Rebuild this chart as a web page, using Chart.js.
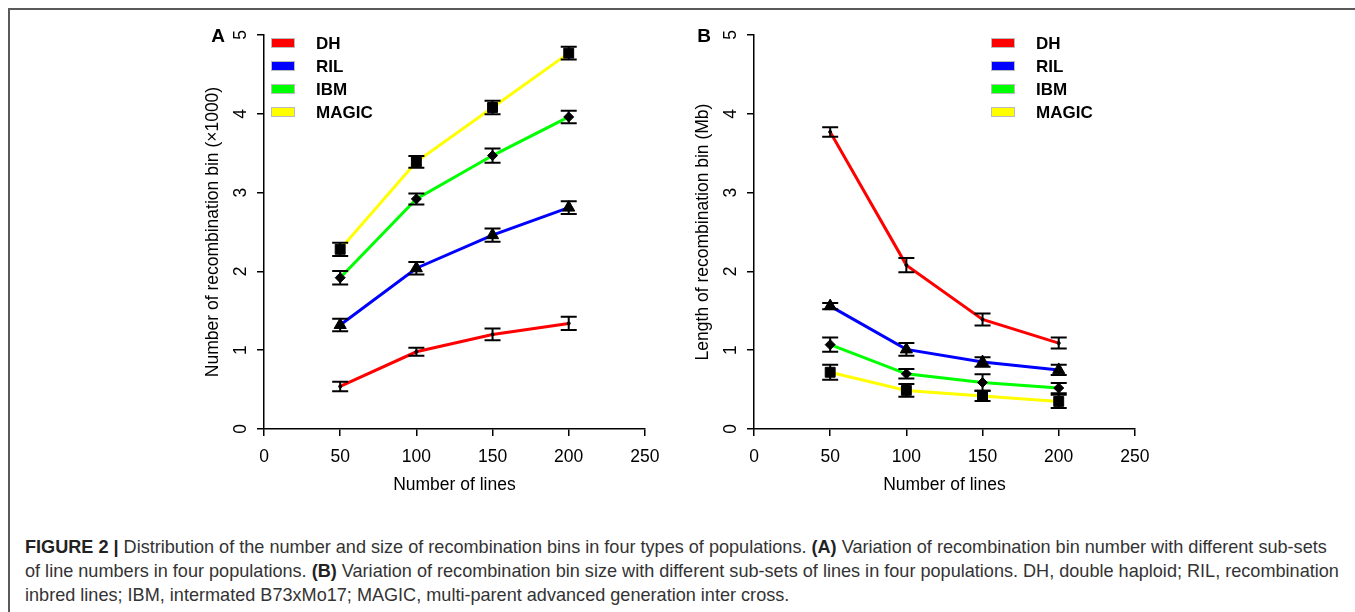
<!DOCTYPE html>
<html>
<head>
<meta charset="utf-8">
<title>Recombination bins in four populations</title>
<style>
  body { margin:0; background:#fff; width:1355px; height:612px; overflow:hidden; position:relative;
         font-family:'Liberation Sans', Arial, sans-serif; }
  .frame { position:absolute; left:8px; top:8px; width:1400px; height:700px;
           border-top:2px solid #5a5a5a; border-left:2px solid #5a5a5a; }
  canvas { position:absolute; }
  #chartA { left:190px; top:20px; }
  #chartB { left:680px; top:20px; }
  .caption { position:absolute; left:25px; top:535px; font-size:18.1px; line-height:24px;
             color:#333; white-space:nowrap; }
  .caption b { color:#222; }
</style>
</head>
<body>
<div class="frame"></div>
<canvas id="chartA" width="480" height="490"></canvas>
<canvas id="chartB" width="480" height="490"></canvas>
<div class="caption">
  <b>FIGURE 2 |</b> Distribution of the number and size of recombination bins in four types of populations. <b>(A)</b> Variation of recombination bin number with different sub-sets<br>
  of line numbers in four populations. <b>(B)</b> Variation of recombination bin size with different sub-sets of lines in four populations. DH, double haploid; RIL, recombination<br>
  inbred lines; IBM, intermated B73xMo17; MAGIC, multi-parent advanced generation inter cross.
</div>

<script src="https://cdn.jsdelivr.net/npm/chart.js"></script>
<script>
  // x values: number of lines in each sub-set
  var lineCounts = [50, 100, 150, 200];
  var populations = ['DH', 'RIL', 'IBM', 'MAGIC'];
  var popColors = ['#ff0000', '#0000ff', '#00ff00', '#ffff00'];
  var popMarkers = ['circle', 'triangle', 'rectRot', 'rect'];
  var markerSizes = [1.5, 7, 5, 7];

  // panel A: number of recombination bins (x1000), mean and error
  var countDH = [0.54, 0.98, 1.20, 1.34];
  var countDHErr = [0.06, 0.05, 0.075, 0.085];
  var countRIL = [1.32, 2.04, 2.46, 2.81];
  var countRILErr = [0.08, 0.08, 0.085, 0.08];
  var countIBM = [1.92, 2.92, 3.47, 3.96];
  var countIBMErr = [0.085, 0.07, 0.09, 0.08];
  var countMAGIC = [2.28, 3.39, 4.08, 4.77];
  var countMAGICErr = [0.085, 0.075, 0.085, 0.08];

  // panel B: length of recombination bin (Mb), mean and error
  var sizeDH = [3.77, 2.08, 1.39, 1.09];
  var sizeDHErr = [0.06, 0.09, 0.075, 0.07];
  var sizeRIL = [1.56, 1.01, 0.85, 0.75];
  var sizeRILErr = [0.04, 0.08, 0.06, 0.065];
  var sizeIBM = [1.07, 0.70, 0.59, 0.52];
  var sizeIBMErr = [0.09, 0.06, 0.105, 0.065];
  var sizeMAGIC = [0.72, 0.49, 0.42, 0.35];
  var sizeMAGICErr = [0.095, 0.08, 0.065, 0.085];

  Chart.defaults.font.family = "'Liberation Sans', Arial, sans-serif";
  Chart.defaults.font.size = 17.5;
  Chart.defaults.color = '#000';

  function makeDatasets(means, errs) {
    return populations.map(function(name, i) {
      return {
        label: name,
        data: lineCounts.map(function(x, j) { return {x: x, y: means[i][j]}; }),
        errors: errs[i],
        borderColor: popColors[i],
        backgroundColor: popColors[i],
        borderWidth: 3,
        pointStyle: popMarkers[i],
        pointRadius: markerSizes[i],
        pointBackgroundColor: '#000',
        pointBorderColor: '#000',
        pointBorderWidth: 1,
        fill: false,
        tension: 0
      };
    });
  }

  // error bars, rotated y tick labels, legend and panel letter
  var decorPlugin = {
    id: 'decor',
    afterDatasetsDraw: function(chart) {
      var ctx = chart.ctx, xs = chart.scales.x, ys = chart.scales.y;
      ctx.save();
      ctx.strokeStyle = '#000';
      ctx.lineWidth = 2;
      chart.data.datasets.forEach(function(ds) {
        ds.data.forEach(function(p, j) {
          var x = xs.getPixelForValue(p.x);
          var top = ys.getPixelForValue(p.y + ds.errors[j]);
          var bot = ys.getPixelForValue(p.y - ds.errors[j]);
          ctx.beginPath();
          ctx.moveTo(x, top); ctx.lineTo(x, bot);
          ctx.moveTo(x - 8, top); ctx.lineTo(x + 8, top);
          ctx.moveTo(x - 8, bot); ctx.lineTo(x + 8, bot);
          ctx.stroke();
        });
      });
      ctx.restore();
    },
    afterDraw: function(chart, args, opts) {
      var ctx = chart.ctx, ys = chart.scales.y;
      ctx.save();
      // y tick labels, written upwards
      ctx.fillStyle = '#000';
      ctx.font = "17.5px 'Liberation Sans', Arial, sans-serif";
      ctx.textAlign = 'center';
      ctx.textBaseline = 'middle';
      ys.ticks.forEach(function(t) {
        ctx.save();
        ctx.translate(50, ys.getPixelForValue(t.value));
        ctx.rotate(-Math.PI / 2);
        ctx.fillText(String(t.value), 0, 1);
        ctx.restore();
      });
      // panel letter
      ctx.font = "bold 19px 'Liberation Sans', Arial, sans-serif";
      ctx.fillText(opts.letter, opts.letterX, 17);
      // legend
      ctx.font = "bold 17px 'Liberation Sans', Arial, sans-serif";
      ctx.textAlign = 'left';
      chart.data.datasets.forEach(function(ds, i) {
        var y = 23 + i * 23;
        ctx.fillStyle = ds.borderColor;
        ctx.fillRect(opts.legendX, y - 4, 22, 8);
        ctx.strokeStyle = '#bbb';
        ctx.lineWidth = 1;
        ctx.strokeRect(opts.legendX - 0.5, y - 4.5, 23, 9);
        ctx.fillStyle = '#000';
        ctx.fillText(ds.label, opts.legendX + 44, y + 1);
      });
      ctx.restore();
    }
  };

  function makeChart(id, datasets, yTitle, letter, letterX, legendX) {
    return new Chart(document.getElementById(id), {
      type: 'line',
      data: { datasets: datasets },
      plugins: [decorPlugin],
      options: {
        responsive: false,
        animation: false,
        layout: { padding: { left: 0, top: 15, right: 23, bottom: 0 } },
        plugins: {
          legend: { display: false },
          tooltip: { enabled: false },
          decor: { letter: letter, letterX: letterX, legendX: legendX }
        },
        scales: {
          x: {
            type: 'linear',
            min: 0, max: 250,
            ticks: { stepSize: 50, padding: 10.5, color: '#000' },
            grid: { drawOnChartArea: false, drawTicks: true, tickLength: 7, color: '#000', lineWidth: 1.5 },
            border: { display: true, color: '#000', width: 1.5 },
            title: { display: true, text: 'Number of lines', color: '#000',
                     padding: { top: 0, bottom: 14.5 } },
            afterFit: function(s) { s.height = 81; }
          },
          y: {
            type: 'linear',
            min: 0, max: 5,
            ticks: { stepSize: 1, display: false },
            grid: { drawOnChartArea: false, drawTicks: true, tickLength: 7, color: '#000', lineWidth: 1.5 },
            border: { display: true, color: '#000', width: 1.5 },
            title: { display: true, text: yTitle, color: '#000',
                     padding: { top: 13, bottom: 0 } },
            afterFit: function(s) { s.width = 74; }
          }
        }
      }
    });
  }

  makeChart('chartA',
    makeDatasets([countDH, countRIL, countIBM, countMAGIC],
                 [countDHErr, countRILErr, countIBMErr, countMAGICErr]),
    'Number of recombination bin (\u00d71000)', 'A', 28, 82);

  makeChart('chartB',
    makeDatasets([sizeDH, sizeRIL, sizeIBM, sizeMAGIC],
                 [sizeDHErr, sizeRILErr, sizeIBMErr, sizeMAGICErr]),
    'Length of recombination bin (Mb)', 'B', 24, 312);
</script>
</body>
</html>
